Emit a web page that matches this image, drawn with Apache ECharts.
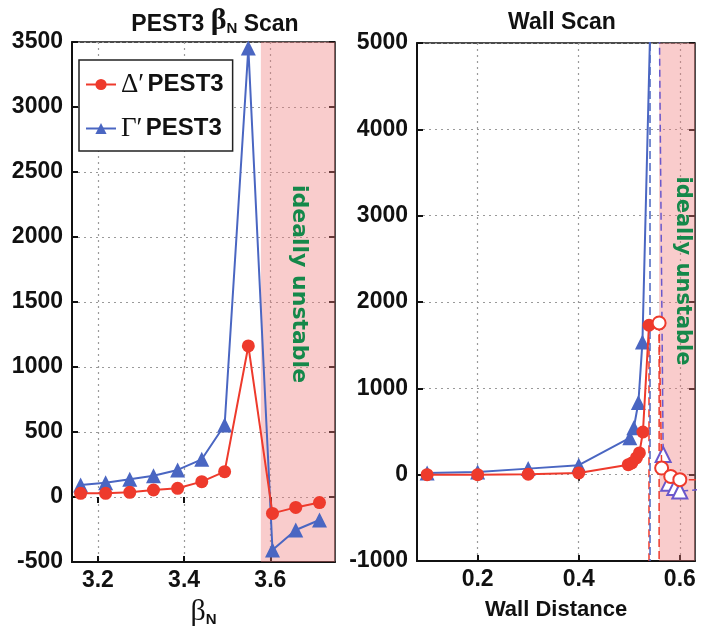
<!DOCTYPE html>
<html>
<head>
<meta charset="utf-8">
<script src="https://cdn.jsdelivr.net/npm/echarts@6/dist/echarts.min.js"></script>
<style>
  html, body { margin: 0; padding: 0; background: #fff; }
  #chart { width: 705px; height: 627px; }
</style>
</head>
<body>
<div id="chart"></div>
<script>
// left panel: PEST3 beta_N scan
const betaN = [3.16, 3.218, 3.274, 3.329, 3.385, 3.441, 3.494, 3.549, 3.605, 3.659, 3.714];
const deltaBeta = [28, 28, 36, 54, 67, 118, 195, 1162, -126, -80, -43];
const gammaBeta = [92, 110, 136, 164, 208, 290, 554, 3454, -408, -254, -177];
const betaTicks = [3.2, 3.4, 3.6];
const betaUnstable = [3.578, 3.75];

// right panel: wall scan, stable side (filled markers)
const wallD = [0.1, 0.2, 0.3, 0.4, 0.498, 0.505, 0.514, 0.52, 0.527, 0.539];
const deltaWall = [0, 0, 5, 20, 116, 135, 194, 252, 494, 1731];
const wallG = [0.1, 0.2, 0.3, 0.4, 0.501, 0.509, 0.518, 0.526, 0.5415];
const gammaWall = [20, 30, 70, 110, 427, 544, 836, 1536, 5200];
// ideally unstable side (hollow markers)
const wallDU = [0.559, 0.564, 0.582, 0.6, 0.66];
const deltaWallU = [1757, 77, -20, -58, -58];
const wallGU = [0.5595, 0.567, 0.578, 0.59, 0.6, 0.66];
const gammaWallU = [5200, 233, -98, -150, -190, -165];
// dashed vertical markers: [x, yTop, yBottom]
const redMarks = [[0.539, 1731, -1000], [0.559, 1757, -1000]];
const blueMarks = [[0.541, 5000, -1000]];
const wallTicks = [0.2, 0.4, 0.6];
const wallUnstable = [0.559, 0.63];

const RED = '#ee3a2c';
const BLUE = '#4a66c2';
const VIOLET = '#6a58cc';
const GREEN = '#15884a';
const PINK = 'rgba(238,120,120,0.38)';
const SANS = "'Liberation Sans', Arial, sans-serif";
const SERIF = "'Liberation Serif', 'DejaVu Serif', serif";

const pts = (xs, ys) => xs.map((x, i) => [x, ys[i]]);

const chart = echarts.init(document.getElementById('chart'));

const labelStyle = { color: '#111', fontFamily: SANS, fontWeight: 'bold', fontSize: 23, formatter: v => String(v) };
const gridLine = { show: true, lineStyle: { color: '#9a9a9a', type: [2, 4], width: 1.2 } };
const tickStyle = { inside: true, length: 6, lineStyle: { color: '#111', width: 2 } };

function xAxisOf(idx, min, max, ticks) {
    return {
        type: 'value', gridIndex: idx, min, max,
        axisLine: { onZero: false, lineStyle: { color: '#111', width: 2 } },
        axisTick: { ...tickStyle, customValues: ticks },
        axisLabel: { ...labelStyle, margin: 7, customValues: ticks },
        splitLine: gridLine,
        nameLocation: 'middle',
    };
}

function yAxisOf(idx, min, max, interval) {
    return {
        type: 'value', gridIndex: idx, min, max, interval,
        axisLine: { show: true, lineStyle: { color: '#111', width: 2 } },
        axisTick: { show: true, ...tickStyle },
        axisLabel: { ...labelStyle, margin: 9 },
        splitLine: gridLine,
    };
}

// mirror axes: only ticks on top / right borders
function topAxisOf(idx, min, max, ticks) {
    return {
        type: 'value', gridIndex: idx, min, max, position: 'top',
        axisLine: { show: false }, axisLabel: { show: false }, splitLine: { show: false },
        axisTick: { ...tickStyle, customValues: ticks },
    };
}
function rightAxisOf(idx, min, max, interval) {
    return {
        type: 'value', gridIndex: idx, min, max, interval, position: 'right',
        axisLine: { show: false }, axisLabel: { show: false }, splitLine: { show: false },
        axisTick: { show: true, ...tickStyle },
    };
}

const subRich = {
    b: { fontFamily: SERIF, fontSize: 30, color: '#111', lineHeight: 30, verticalAlign: 'bottom' },
    n: { fontFamily: SANS, fontWeight: 'bold', fontSize: 15, color: '#111', lineHeight: 24, verticalAlign: 'bottom' },
    a: { fontFamily: SANS, fontWeight: 'bold', fontSize: 23, color: '#111', lineHeight: 30, verticalAlign: 'bottom' },
};

const xLeft = xAxisOf(0, 3.14, 3.75, betaTicks);
xLeft.name = '{b|β}{n|N}';
xLeft.nameGap = 35;
xLeft.nameTextStyle = { rich: subRich };

const xRight = xAxisOf(1, 0.08, 0.63, wallTicks);
xRight.name = 'Wall Distance';
xRight.nameGap = 38;
xRight.nameTextStyle = { color: '#111', fontFamily: SANS, fontWeight: 'bold', fontSize: 22 };

const option = {
    animation: false,
    title: [
        { text: '{a|PEST3 }{b|β}{n|N}{a| Scan}', left: 210, top: 1, textAlign: 'center', textStyle: { rich: subRich } },
        { text: 'Wall Scan', left: 557, top: 3, textAlign: 'center',
          textStyle: { fontFamily: SANS, fontWeight: 'bold', fontSize: 23, color: '#111', lineHeight: 30 } },
    ],
    legend: {
        data: ['Δ′ PEST3', 'Γ′ PEST3'],
        orient: 'vertical',
        left: 79, top: 60,
        padding: [11, 9, 9, 6],
        itemGap: 17,
        itemWidth: 30, itemHeight: 14,
        backgroundColor: '#fff',
        borderColor: '#222', borderWidth: 1.5, borderRadius: 0,
        formatter: name => {
            const [g, t] = name.split(' ');
            return `{g|${g}} {t|${t}}`;
        },
        textStyle: {
            rich: {
                g: { fontFamily: SERIF, fontSize: 27, color: '#111', lineHeight: 30 },
                t: { fontFamily: SANS, fontWeight: 'bold', fontSize: 24, color: '#111', lineHeight: 30 },
            },
        },
    },
    grid: [
        { left: 72, right: 370, top: 42, bottom: 65, outerBoundsMode: 'none',
          show: true, borderColor: '#111', borderWidth: 1.5 },
        { left: 417, right: 10, top: 43, bottom: 66, outerBoundsMode: 'none',
          show: true, borderColor: '#111', borderWidth: 1.5 },
    ],
    xAxis: [xLeft, xRight, topAxisOf(0, 3.14, 3.75, betaTicks), topAxisOf(1, 0.08, 0.63, wallTicks)],
    yAxis: [
        yAxisOf(0, -500, 3500, 500),
        yAxisOf(1, -1000, 5000, 1000),
        rightAxisOf(0, -500, 3500, 500),
        rightAxisOf(1, -1000, 5000, 1000),
    ],
    graphic: [
        { type: 'text', x: 299, y: 284, rotation: -Math.PI / 2, z: 10,
          style: { text: 'ideally unstable', fill: GREEN, font: 'bold 22px "DejaVu Sans"', align: 'center', verticalAlign: 'middle' } },
        { type: 'text', x: 682, y: 271, rotation: -Math.PI / 2, z: 10,
          style: { text: 'ideally unstable', fill: GREEN, font: 'bold 21px "DejaVu Sans"', align: 'center', verticalAlign: 'middle' } },
    ],
    series: [
        {
            name: 'Δ′ PEST3', type: 'line', xAxisIndex: 0, yAxisIndex: 0,
            data: pts(betaN, deltaBeta),
            symbol: 'circle', symbolSize: 13,
            lineStyle: { color: RED, width: 2 }, itemStyle: { color: RED },
            markArea: {
                silent: true,
                itemStyle: { color: PINK },
                data: [[{ xAxis: betaUnstable[0] }, { xAxis: betaUnstable[1] }]],
            },
            z: 4,
        },
        {
            name: 'Γ′ PEST3', type: 'line', xAxisIndex: 0, yAxisIndex: 0,
            data: pts(betaN, gammaBeta),
            symbol: 'triangle', symbolSize: 15,
            lineStyle: { color: BLUE, width: 2 }, itemStyle: { color: BLUE },
            z: 3,
        },
        // wall scan
        {
            name: 'Δ′ PEST3', type: 'line', xAxisIndex: 1, yAxisIndex: 1,
            data: pts(wallD, deltaWall),
            symbol: 'circle', symbolSize: 13,
            lineStyle: { color: RED, width: 2 }, itemStyle: { color: RED },
            markArea: {
                silent: true,
                itemStyle: { color: PINK },
                data: [[{ xAxis: wallUnstable[0] }, { xAxis: wallUnstable[1] }]],
            },
            z: 4,
        },
        {
            name: 'Γ′ PEST3', type: 'line', xAxisIndex: 1, yAxisIndex: 1,
            data: pts(wallG, gammaWall),
            symbol: 'triangle', symbolSize: 15,
            lineStyle: { color: BLUE, width: 2 }, itemStyle: { color: BLUE },
            z: 3,
        },
        {
            name: 'delta unstable', type: 'line', xAxisIndex: 1, yAxisIndex: 1,
            data: pts(wallDU, deltaWallU),
            symbol: 'emptyCircle', symbolSize: 13,
            lineStyle: { color: RED, width: 1.5, type: [7, 4] }, itemStyle: { color: RED, borderWidth: 1.2 },
            z: 4,
        },
        {
            name: 'gamma unstable', type: 'line', xAxisIndex: 1, yAxisIndex: 1,
            data: pts(wallGU, gammaWallU),
            symbol: 'emptyTriangle', symbolSize: 15,
            lineStyle: { color: VIOLET, width: 1.5, type: [7, 4] }, itemStyle: { color: VIOLET, borderWidth: 1.2 },
            z: 3,
        },
        ...redMarks.map(m => ({
            type: 'line', xAxisIndex: 1, yAxisIndex: 1, symbol: 'none', silent: true,
            data: [[m[0], m[1]], [m[0], m[2]]],
            lineStyle: { color: RED, width: 1.5, type: [8, 4] }, z: 2,
        })),
        ...blueMarks.map(m => ({
            type: 'line', xAxisIndex: 1, yAxisIndex: 1, symbol: 'none', silent: true,
            data: [[m[0], m[1]], [m[0], m[2]]],
            lineStyle: { color: BLUE, width: 1.5, type: [8, 4] }, z: 2,
        })),
    ],
};

chart.setOption(option);
</script>
</body>
</html>
